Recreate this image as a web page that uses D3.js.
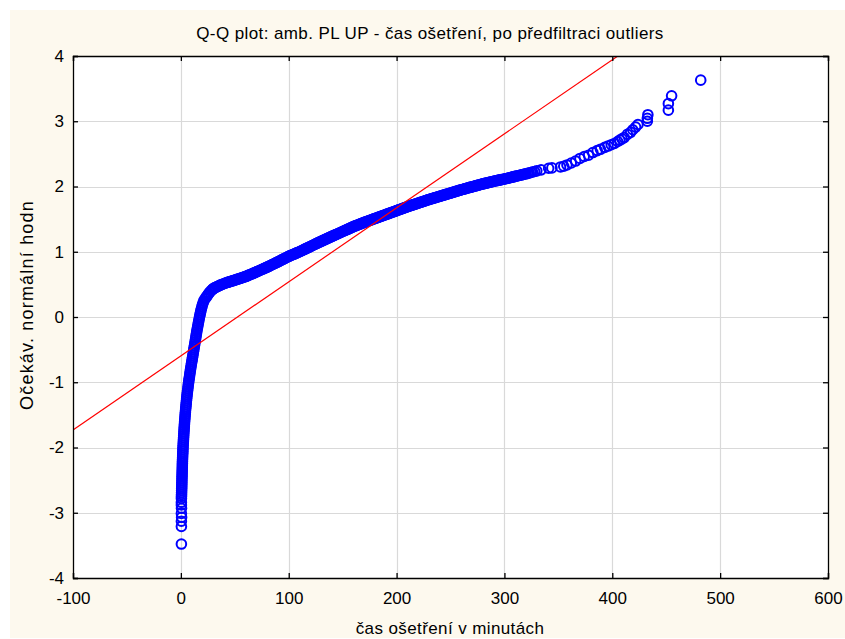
<!DOCTYPE html>
<html><head><meta charset="utf-8">
<script src="https://cdn.jsdelivr.net/npm/d3@7"></script>
<style>
body{margin:0;background:#fff}
svg{display:block}
text{font-family:Arial,"Liberation Sans",sans-serif;fill:#000}
</style>
</head><body>
<svg id="c" width="845" height="639"></svg>
<script>
// ---------------- data ----------------
const chartTitle = "Q-Q plot: amb. PL UP - čas ošetření, po předfiltraci outliers";
const xAxisLabel = "čas ošetření v minutách";
const yAxisLabel = "Očekáv. normální hodn";
const xTickValues = [-100, 0, 100, 200, 300, 400, 500, 600];
const yTickValues = [-4, -3, -2, -1, 0, 1, 2, 3, 4];

const timeMinutes = [
  // lowest isolated points
  0.5, 0.5, 0.5, 0.7, 0.5, 0.6, 0.5, 0.5,
  // steep lower part
  0.53,0.58,0.63,0.68,0.73,0.78,0.83,0.88,0.93,0.98,1.03,1.08,1.13,1.18,1.23,1.28,1.33,1.38,1.43,1.48,
  1.55,1.63,1.70,1.78,1.85,1.93,2.00,2.11,2.21,2.32,2.42,2.53,2.63,2.74,2.86,2.98,3.10,3.22,3.34,3.46,
  3.60,3.75,3.90,4.05,4.20,4.35,4.50,4.68,4.86,5.04,5.22,5.40,5.58,5.78,6.00,6.23,6.45,6.68,6.90,7.13,
  7.38,7.65,7.92,8.19,8.46,8.73,9.00,9.30,9.60,9.90,10.2,10.5,10.8,11.1,11.4,11.7,12.0,12.3,12.6,12.9,
  13.2,13.5,13.8,14.1,14.4,14.7,15.0,15.35,15.69,16.04,16.38,16.73,17.07,17.43,17.82,18.21,18.6,19.08,19.56,20.04,
  20.67,21.37,
  // knee
  22.4,23.3,24.2,25.0,25.8,26.8,27.9,29.1,30.5,32.0,33.6,35.5,37.5,39.7,42.0,44.3,
  29.8,31.2,34.5,36.5,38.6,41.0,43.2,45.1,
  // middle part
  46,48,50,52,54,56,58,60,62,64,66,68,70,72,74,76,78,80,82,84,86,88,90,92,94,96,98,100,
  102,104,106,108,110,112,114,116,118,120,122,124,126,128,130,132,134,136,138,140,142,144,146,148,150,
  152,154,156,158,160,162,164,166,168,170,172,174,176,178,180,182,184,186,188,190,192,194,196,198,200,
  202,204,206,208,210,212,214,216,218,220,222,224,226,228,230,232,234,236,238,240,242,244,246,248,250,
  252,254,256,258,260,262,264,266,268,270,272,274,276,278,280,282,284,286,288,290,292,294,296,298,300,
  302,304,306,308,310,312.5,315,317.5,320,323,326,330,
  47,49,51,53,55,57,59,61,63,65,67,69,71,73,75,77,79,81,83,85,87,89,91,93,95,97,99,
  101,103,105,107,109,111,113,115,117,119,121,123,125,127,129,131,133,135,137,139,141,143,145,147,149,
  151,153,155,157,159,161,163,165,167,169,171,173,175,177,179,181,183,185,187,189,191,193,195,197,199,
  201,203,205,207,209,211,213,215,217,219,221,223,225,227,229,231,233,235,237,239,241,243,245,247,249,
  251,253,255,257,259,261,263,265,267,269,271,273,275,277,279,281,283,285,287,289,291,293,295,297,299,
  301,303,305,307,309,311,313.5,316,318.5,321.5,324.5,328,
  // upper tail
  334,341,344,352,355,358,362,366,370,374,378,382,386,389,393,396,399,402,405,407,409,411,414,417,419,
  421.6,423.8,432.5,432.5,433,452,452,455,482
];

const expectedNormal = [
  -3.48,-3.21,-3.13,-3.07,-3.01,-2.93,-2.88,-2.84,
  -2.78,-2.75,-2.72,-2.69,-2.66,-2.63,-2.60,-2.57,-2.54,-2.51,-2.48,-2.45,-2.42,-2.39,-2.36,-2.33,-2.30,-2.27,-2.24,-2.21,
  -2.18,-2.15,-2.12,-2.09,-2.06,-2.03,-2.00,-1.97,-1.94,-1.91,-1.88,-1.85,-1.82,-1.79,-1.76,-1.73,-1.70,-1.67,-1.64,-1.61,
  -1.58,-1.55,-1.52,-1.49,-1.46,-1.43,-1.40,-1.37,-1.34,-1.31,-1.28,-1.25,-1.22,-1.19,-1.16,-1.13,-1.10,-1.07,-1.04,-1.01,
  -0.98,-0.95,-0.92,-0.89,-0.86,-0.83,-0.80,-0.77,-0.74,-0.71,-0.68,-0.65,-0.62,-0.59,-0.56,-0.53,-0.50,-0.47,-0.44,-0.41,
  -0.38,-0.35,-0.32,-0.29,-0.26,-0.23,-0.20,-0.17,-0.14,-0.11,-0.08,-0.05,-0.02,0.01,0.04,0.07,0.10,0.13,0.16,0.19,
  0.22,0.25,
  0.28,0.30,0.32,0.34,0.36,0.38,0.40,0.42,0.44,0.45,0.465,0.48,0.495,0.51,0.525,0.535,
  0.43,0.447,0.472,0.488,0.503,0.517,0.53,0.54,
  0.545,0.555,0.565,0.576,0.587,0.598,0.609,0.62,0.634,0.648,0.662,0.676,0.69,0.705,0.72,0.735,0.75,0.765,0.781,0.797,0.813,0.829,0.845,0.862,0.879,0.896,0.913,0.93,
  0.944,0.958,0.972,0.986,1.00,1.016,1.032,1.048,1.064,1.08,1.096,1.112,1.128,1.144,1.16,1.175,1.19,1.205,1.22,1.235,1.25,1.265,1.28,1.295,1.31,
  1.325,1.34,1.355,1.37,1.385,1.398,1.411,1.424,1.437,1.45,1.462,1.474,1.486,1.498,1.51,1.522,1.534,1.546,1.558,1.57,1.582,1.594,1.606,1.618,1.63,
  1.642,1.654,1.666,1.678,1.69,1.701,1.712,1.723,1.734,1.745,1.756,1.767,1.778,1.789,1.80,1.81,1.82,1.83,1.84,1.85,1.86,1.87,1.88,1.89,1.90,
  1.91,1.92,1.93,1.94,1.95,1.959,1.968,1.977,1.986,1.995,2.004,2.013,2.022,2.031,2.04,2.048,2.056,2.064,2.072,2.08,2.087,2.094,2.101,2.108,2.115,
  2.123,2.131,2.139,2.147,2.155,2.165,2.175,2.185,2.195,2.208,2.222,2.24,
  0.55,0.56,0.571,0.582,0.593,0.604,0.615,0.627,0.641,0.655,0.669,0.683,0.698,0.713,0.728,0.743,0.758,0.773,0.789,0.805,0.821,0.837,0.854,0.871,0.888,0.905,0.922,
  0.937,0.951,0.965,0.979,0.993,1.008,1.024,1.04,1.056,1.072,1.088,1.104,1.12,1.136,1.152,1.168,1.183,1.198,1.213,1.228,1.243,1.258,1.273,1.288,1.303,
  1.318,1.333,1.348,1.363,1.378,1.392,1.405,1.418,1.431,1.444,1.456,1.468,1.48,1.492,1.504,1.516,1.528,1.54,1.552,1.564,1.576,1.588,1.60,1.612,1.624,
  1.636,1.648,1.66,1.672,1.684,1.696,1.707,1.718,1.729,1.74,1.751,1.762,1.773,1.784,1.795,1.805,1.815,1.825,1.835,1.845,1.855,1.865,1.875,1.885,1.895,
  1.905,1.915,1.925,1.935,1.945,1.955,1.964,1.973,1.982,1.991,2.0,2.009,2.018,2.027,2.036,2.044,2.052,2.06,2.068,2.076,2.084,2.091,2.098,2.105,2.112,
  2.119,2.127,2.135,2.143,2.151,2.16,2.169,2.179,2.19,2.201,2.215,2.231,
  2.255,2.28,2.285,2.30,2.31,2.33,2.36,2.39,2.43,2.46,2.48,2.52,2.55,2.57,2.60,2.62,2.64,2.66,2.69,2.71,2.73,2.75,2.80,2.83,2.87,
  2.91,2.95,3.00,3.045,3.10,3.17,3.27,3.39,3.63
];

// reference (normal) line endpoints
const refLineX = [-100, 600];
const refLineY = [-1.73, 6.21];

// ---------------- drawing ----------------
const W = 845, H = 639;
const plot = {left: 73, top: 56, right: 828, bottom: 578};
const svg = d3.select("#c");

svg.append("rect").attr("x", 10).attr("y", 10).attr("width", W - 10).attr("height", H - 11)
  .attr("fill", "#fdf9ee");
svg.append("rect").attr("x", plot.left).attr("y", plot.top)
  .attr("width", plot.right - plot.left).attr("height", plot.bottom - plot.top).attr("fill", "#fff");

const x = d3.scaleLinear().domain([-100, 600]).range([plot.left, plot.right]);
const y = d3.scaleLinear().domain([-4, 4]).range([plot.bottom, plot.top]);

// grid
const grid = svg.append("g").attr("stroke", "#d9d9d9").attr("stroke-width", 1.2);
grid.selectAll("line.gx").data(xTickValues.slice(1, -1)).join("line")
  .attr("x1", d => Math.round(x(d)) + 0.5).attr("x2", d => Math.round(x(d)) + 0.5)
  .attr("y1", plot.top).attr("y2", plot.bottom);
grid.selectAll("line.gy").data(yTickValues.slice(1, -1)).join("line")
  .attr("y1", d => Math.round(y(d)) + 0.5).attr("y2", d => Math.round(y(d)) + 0.5)
  .attr("x1", plot.left).attr("x2", plot.right);

// points
const pts = timeMinutes.map((v, i) => [v, expectedNormal[i]]);
svg.append("g")
  .selectAll("circle").data(pts).join("circle")
  .attr("cx", d => x(d[0])).attr("cy", d => y(d[1])).attr("r", 4.8)
  .attr("fill", "none").attr("stroke", "#0000ff").attr("stroke-width", 2);

// reference line clipped to plot
svg.append("clipPath").attr("id", "pc").append("rect")
  .attr("x", plot.left).attr("y", plot.top)
  .attr("width", plot.right - plot.left).attr("height", plot.bottom - plot.top);
svg.append("line").attr("clip-path", "url(#pc)")
  .attr("x1", x(refLineX[0])).attr("y1", y(refLineY[0]))
  .attr("x2", x(refLineX[1])).attr("y2", y(refLineY[1]))
  .attr("stroke", "#ff0000").attr("stroke-width", 1.2);

// axes
const fs = "17px";
const fmt = d => String(d);
const axB = d3.axisBottom(x).tickValues(xTickValues).tickSize(-5).tickPadding(14).tickFormat(fmt);
const axT = d3.axisTop(x).tickValues(xTickValues).tickSize(-5).tickFormat("");
const axL = d3.axisLeft(y).tickValues(yTickValues).tickSize(-5).tickPadding(9).tickFormat(fmt);
const axR = d3.axisRight(y).tickValues(yTickValues).tickSize(-5).tickFormat("");
function style(g) {
  g.selectAll("path,line").attr("stroke", "#000").attr("stroke-width", 1.3);
  g.selectAll("text").style("font-size", fs).attr("fill", "#000");
  g.attr("font-family", null);
}
svg.append("g").attr("transform", `translate(0,${plot.bottom})`).call(axB).call(style);
svg.append("g").attr("transform", `translate(0,${plot.top})`).call(axT).call(style);
svg.append("g").attr("transform", `translate(${plot.left},0)`).call(axL).call(style);
svg.append("g").attr("transform", `translate(${plot.right},0)`).call(axR).call(style);

// titles
svg.append("text").attr("x", 430).attr("y", 39).attr("text-anchor", "middle")
  .style("font-size", "17px").style("letter-spacing", "0.4px").text(chartTitle);
svg.append("text").attr("x", 450).attr("y", 634).attr("text-anchor", "middle")
  .style("font-size", "17px").style("letter-spacing", "0.4px").text(xAxisLabel);
svg.append("text").attr("transform", "translate(33,305) rotate(-90)").attr("text-anchor", "middle")
  .style("font-size", "18px").style("letter-spacing", "1.2px").text(yAxisLabel);
</script>
</body></html>
